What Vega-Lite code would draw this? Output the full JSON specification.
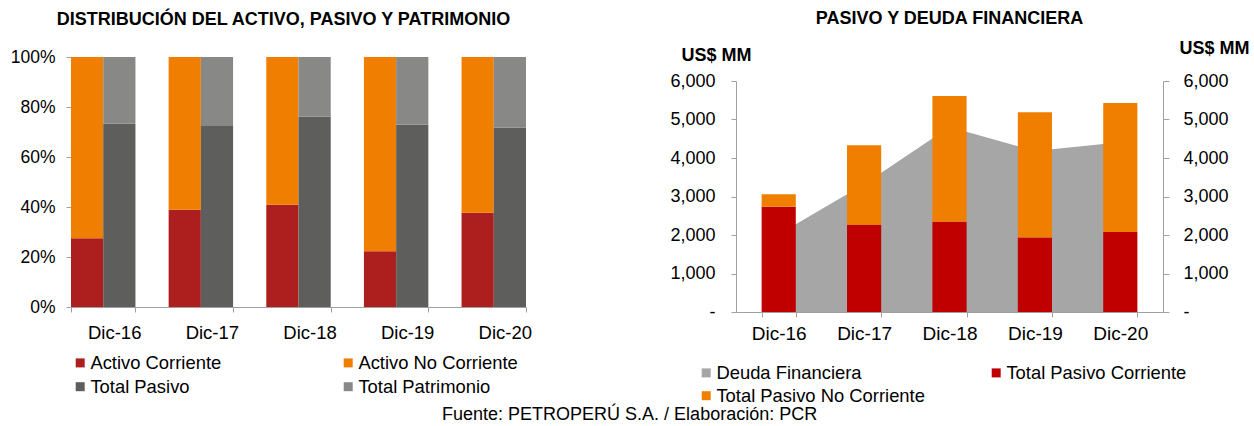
{
  "$schema": "https://vega.github.io/schema/vega-lite/v6.json",
  "background": "white",
  "padding": {"left": 10, "top": 10, "right": 0, "bottom": 0},
  "config": {
    "font": "Liberation Sans",
    "view": {"stroke": null},
    "axis": {"domainColor": "#A0A0A0", "tickColor": "#A0A0A0", "labelColor": "#000000", "grid": false, "labelFont": "Liberation Sans"},
    "legend": {"labelFont": "Liberation Sans", "labelColor": "#000000"},
    "concat": {"spacing": 137}
  },
  "title": {"text": "Fuente: PETROPERÚ S.A. / Elaboración: PCR", "orient": "bottom", "anchor": "middle", "fontSize": 18, "fontWeight": "normal", "font": "Liberation Sans", "color": "#000000", "offset": 0},
  "resolve": {"scale": {"color": "independent"}},
  "hconcat": [
    {
      "width": 455,
      "height": 250,
      "title": {"text": "DISTRIBUCIÓN DEL ACTIVO, PASIVO Y PATRIMONIO", "fontSize": 18, "fontWeight": "bold", "font": "Liberation Sans", "color": "#000000", "offset": 19, "dx": -15},
      "data": {"values": [
        {"fecha": "Dic-16", "grupo": "Activo", "serie": "Activo Corriente", "orden": 1, "valor": 0.275},
        {"fecha": "Dic-16", "grupo": "Activo", "serie": "Activo No Corriente", "orden": 2, "valor": 0.725},
        {"fecha": "Dic-16", "grupo": "Pasivo", "serie": "Total Pasivo", "orden": 1, "valor": 0.733},
        {"fecha": "Dic-16", "grupo": "Pasivo", "serie": "Total Patrimonio", "orden": 2, "valor": 0.267},
        {"fecha": "Dic-17", "grupo": "Activo", "serie": "Activo Corriente", "orden": 1, "valor": 0.389},
        {"fecha": "Dic-17", "grupo": "Activo", "serie": "Activo No Corriente", "orden": 2, "valor": 0.611},
        {"fecha": "Dic-17", "grupo": "Pasivo", "serie": "Total Pasivo", "orden": 1, "valor": 0.727},
        {"fecha": "Dic-17", "grupo": "Pasivo", "serie": "Total Patrimonio", "orden": 2, "valor": 0.273},
        {"fecha": "Dic-18", "grupo": "Activo", "serie": "Activo Corriente", "orden": 1, "valor": 0.409},
        {"fecha": "Dic-18", "grupo": "Activo", "serie": "Activo No Corriente", "orden": 2, "valor": 0.591},
        {"fecha": "Dic-18", "grupo": "Pasivo", "serie": "Total Pasivo", "orden": 1, "valor": 0.761},
        {"fecha": "Dic-18", "grupo": "Pasivo", "serie": "Total Patrimonio", "orden": 2, "valor": 0.239},
        {"fecha": "Dic-19", "grupo": "Activo", "serie": "Activo Corriente", "orden": 1, "valor": 0.223},
        {"fecha": "Dic-19", "grupo": "Activo", "serie": "Activo No Corriente", "orden": 2, "valor": 0.777},
        {"fecha": "Dic-19", "grupo": "Pasivo", "serie": "Total Pasivo", "orden": 1, "valor": 0.729},
        {"fecha": "Dic-19", "grupo": "Pasivo", "serie": "Total Patrimonio", "orden": 2, "valor": 0.271},
        {"fecha": "Dic-20", "grupo": "Activo", "serie": "Activo Corriente", "orden": 1, "valor": 0.377},
        {"fecha": "Dic-20", "grupo": "Activo", "serie": "Activo No Corriente", "orden": 2, "valor": 0.623},
        {"fecha": "Dic-20", "grupo": "Pasivo", "serie": "Total Pasivo", "orden": 1, "valor": 0.717},
        {"fecha": "Dic-20", "grupo": "Pasivo", "serie": "Total Patrimonio", "orden": 2, "valor": 0.283}
      ]},
      "mark": {"type": "bar"},
      "encoding": {
        "x": {"field": "fecha", "type": "nominal", "sort": ["Dic-16", "Dic-17", "Dic-18", "Dic-19", "Dic-20"],
              "scale": {"paddingInner": 0.34, "paddingOuter": 0},
              "axis": {"title": null, "labelAngle": 0, "labelFontSize": 18.5, "labelOffset": 11, "labelPadding": 11, "tickSize": 5, "tickBand": "extent"}},
        "xOffset": {"field": "grupo", "type": "nominal", "sort": ["Activo", "Pasivo"], "scale": {"paddingInner": 0, "paddingOuter": 0}},
        "y": {"field": "valor", "type": "quantitative", "stack": "zero", "scale": {"domain": [0, 1], "nice": false},
              "axis": {"title": null, "format": ".0%", "values": [0, 0.2, 0.4, 0.6, 0.8, 1], "labelFontSize": 17.5, "labelPadding": 11, "tickSize": 5}},
        "color": {"field": "serie", "type": "nominal",
                  "scale": {"domain": ["Activo Corriente", "Activo No Corriente", "Total Pasivo", "Total Patrimonio"], "range": ["#AD1F1F", "#F07E00", "#5E5E5C", "#888886"]},
                  "legend": {"orient": "none", "direction": "horizontal", "legendX": 0, "legendY": 296.5, "columns": 2, "title": null, "symbolType": "square", "symbolSize": 81, "symbolStrokeWidth": 0, "labelFontSize": 18.4, "columnPadding": 117, "rowPadding": 5, "labelOffset": 1, "padding": 0, "labelLimit": 400}},
        "order": {"field": "orden", "type": "quantitative"}
      }
    },
    {
      "width": 427,
      "height": 255,
      "title": {"text": "PASIVO Y DEUDA FINANCIERA", "fontSize": 18, "fontWeight": "bold", "font": "Liberation Sans", "color": "#000000", "offset": 11},
      "data": {"values": [
        {"fecha": "Dic-16", "serie": "Deuda Financiera", "orden": 0, "valor": 2018},
        {"fecha": "Dic-17", "serie": "Deuda Financiera", "orden": 0, "valor": 3320},
        {"fecha": "Dic-18", "serie": "Deuda Financiera", "orden": 0, "valor": 4806},
        {"fecha": "Dic-19", "serie": "Deuda Financiera", "orden": 0, "valor": 4180},
        {"fecha": "Dic-20", "serie": "Deuda Financiera", "orden": 0, "valor": 4410},
        {"fecha": "Dic-16", "serie": "Total Pasivo Corriente", "orden": 1, "valor": 2731},
        {"fecha": "Dic-17", "serie": "Total Pasivo Corriente", "orden": 1, "valor": 2263},
        {"fecha": "Dic-18", "serie": "Total Pasivo Corriente", "orden": 1, "valor": 2341},
        {"fecha": "Dic-19", "serie": "Total Pasivo Corriente", "orden": 1, "valor": 1935},
        {"fecha": "Dic-20", "serie": "Total Pasivo Corriente", "orden": 1, "valor": 2081},
        {"fecha": "Dic-16", "serie": "Total  Pasivo No Corriente", "orden": 2, "valor": 330},
        {"fecha": "Dic-17", "serie": "Total  Pasivo No Corriente", "orden": 2, "valor": 2065},
        {"fecha": "Dic-18", "serie": "Total  Pasivo No Corriente", "orden": 2, "valor": 3269},
        {"fecha": "Dic-19", "serie": "Total  Pasivo No Corriente", "orden": 2, "valor": 3255},
        {"fecha": "Dic-20", "serie": "Total  Pasivo No Corriente", "orden": 2, "valor": 3347}
      ]},
      "resolve": {"axis": {"y": "independent"}},
      "layer": [
        {
          "transform": [{"filter": "datum.serie == 'Deuda Financiera'"}],
          "mark": {"type": "area", "opacity": 1},
          "encoding": {
            "x": {"field": "fecha", "type": "nominal", "sort": ["Dic-16", "Dic-17", "Dic-18", "Dic-19", "Dic-20"],
                  "scale": {"paddingInner": 0.6, "paddingOuter": 0.3},
                  "axis": {"title": null, "labelAngle": 0, "labelFontSize": 19, "labelPadding": 7, "tickSize": 5, "tickBand": "extent"}},
            "y": {"field": "valor", "type": "quantitative", "stack": null, "scale": {"domain": [0, 6000], "range": [255, 24], "nice": false},
                  "axis": {"orient": "left", "values": [0, 1000, 2000, 3000, 4000, 5000, 6000], "labelExpr": "datum.value == 0 ? '-' : format(datum.value, ',')", "labelFontSize": 18, "labelPadding": 16, "tickSize": 5,
                           "title": "US$ MM", "titleAngle": 0, "titleAlign": "right", "titleBaseline": "middle", "titleX": 15, "titleY": -2, "titleFontSize": 18, "titleFontWeight": "bold", "titleColor": "#000000"}},
            "color": {"field": "serie", "type": "nominal",
                      "scale": {"domain": ["Deuda Financiera", "Total Pasivo Corriente", "Total  Pasivo No Corriente"], "range": ["#A6A6A6", "#C00000", "#F07F00"]},
                      "legend": {"orient": "none", "direction": "horizontal", "legendX": -39, "legendY": 306.5, "columns": 2, "title": null, "symbolType": "square", "symbolSize": 81, "symbolStrokeWidth": 0, "symbolOpacity": 1, "labelFontSize": 18.4, "columnPadding": 56, "rowPadding": 4, "labelOffset": 1, "padding": 0, "labelLimit": 400}}
          }
        },
        {
          "transform": [{"filter": "datum.serie != 'Deuda Financiera'"}],
          "mark": {"type": "bar"},
          "encoding": {
            "x": {"field": "fecha", "type": "nominal", "sort": ["Dic-16", "Dic-17", "Dic-18", "Dic-19", "Dic-20"],
                  "scale": {"paddingInner": 0.6, "paddingOuter": 0.3},
                  "axis": {"title": null, "labelAngle": 0, "labelFontSize": 19, "labelPadding": 7, "tickSize": 5, "tickBand": "extent"}},
            "y": {"field": "valor", "type": "quantitative", "stack": "zero", "scale": {"domain": [0, 6000], "range": [255, 24], "nice": false},
                  "axis": {"orient": "right", "values": [0, 1000, 2000, 3000, 4000, 5000, 6000], "labelExpr": "datum.value == 0 ? '-' : format(datum.value, ',')", "labelFontSize": 18, "labelPadding": 14, "tickSize": 6,
                           "title": "US$ MM", "titleAngle": 0, "titleAlign": "right", "titleBaseline": "middle", "titleX": 86, "titleY": -9, "titleFontSize": 18, "titleFontWeight": "bold", "titleColor": "#000000"}},
            "color": {"field": "serie", "type": "nominal"},
            "order": {"field": "orden", "type": "quantitative"}
          }
        }
      ]
    }
  ]
}
